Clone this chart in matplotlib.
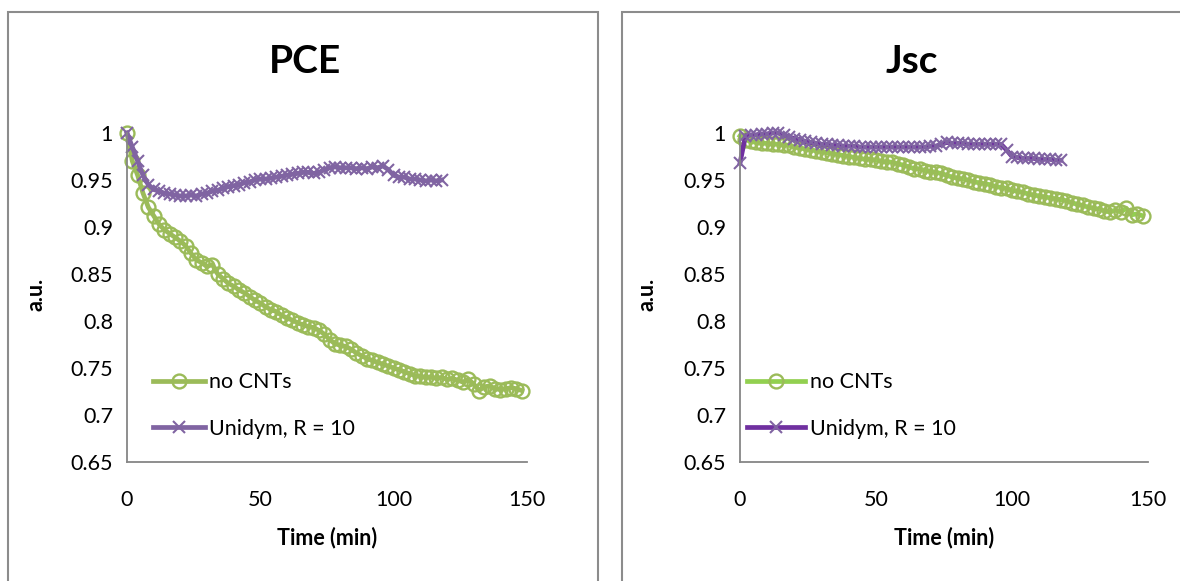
import numpy as np
import matplotlib.pyplot as plt
from matplotlib.patches import Rectangle

plt.rcParams['font.family'] = ['Lato', 'DejaVu Sans']

# time axis (min), one sample every 2 min
t_ref = np.arange(0, 150, 2)     # no CNTs
t_uni = np.arange(0, 120, 2)     # Unidym, R = 10

# PCE (normalised)
pce_ref = [1.000, 0.970, 0.955, 0.936, 0.921, 0.912, 0.903, 0.897, 0.893, 0.889,
           0.885, 0.880, 0.872, 0.865, 0.862, 0.858, 0.860, 0.850, 0.845, 0.840,
           0.837, 0.833, 0.830, 0.826, 0.822, 0.819, 0.815, 0.812, 0.810, 0.806,
           0.803, 0.801, 0.798, 0.796, 0.794, 0.793, 0.790, 0.786, 0.780, 0.776,
           0.774, 0.773, 0.770, 0.766, 0.763, 0.760, 0.758, 0.756, 0.754, 0.752,
           0.750, 0.748, 0.746, 0.744, 0.742, 0.741, 0.740, 0.740, 0.739, 0.740,
           0.738, 0.739, 0.737, 0.735, 0.738, 0.733, 0.726, 0.730, 0.731, 0.728,
           0.727, 0.728, 0.729, 0.728, 0.726]
pce_uni = [1.000, 0.985, 0.970, 0.955, 0.945, 0.940, 0.938, 0.936, 0.935, 0.934,
           0.933, 0.933, 0.934, 0.933, 0.935, 0.936, 0.938, 0.939, 0.941, 0.943,
           0.944, 0.945, 0.947, 0.948, 0.950, 0.951, 0.951, 0.952, 0.953, 0.954,
           0.955, 0.956, 0.957, 0.958, 0.958, 0.957, 0.958, 0.961, 0.963, 0.964,
           0.963, 0.963, 0.963, 0.962, 0.963, 0.962, 0.964, 0.963, 0.965, 0.961,
           0.955, 0.953, 0.953, 0.951, 0.951, 0.950, 0.949, 0.950, 0.949, 0.950]

# Jsc (normalised)
jsc_ref = [0.997, 0.993, 0.991, 0.990, 0.989, 0.989, 0.988, 0.988, 0.987, 0.987,
           0.985, 0.984, 0.983, 0.982, 0.981, 0.980, 0.979, 0.978, 0.977, 0.976,
           0.975, 0.974, 0.973, 0.972, 0.972, 0.971, 0.970, 0.969, 0.969, 0.967,
           0.966, 0.964, 0.962, 0.962, 0.960, 0.959, 0.958, 0.957, 0.955, 0.953,
           0.952, 0.951, 0.950, 0.948, 0.947, 0.946, 0.945, 0.943, 0.942, 0.941,
           0.939, 0.938, 0.937, 0.935, 0.934, 0.933, 0.932, 0.931, 0.930, 0.929,
           0.928, 0.926, 0.924, 0.923, 0.921, 0.920, 0.919, 0.917, 0.916, 0.918,
           0.916, 0.920, 0.913, 0.914, 0.912]
jsc_uni = [0.968, 0.997, 0.998, 0.998, 0.999, 0.999, 1.000, 1.000, 0.998, 0.996,
           0.994, 0.993, 0.991, 0.990, 0.989, 0.988, 0.988, 0.987, 0.987, 0.986,
           0.986, 0.986, 0.985, 0.985, 0.985, 0.985, 0.985, 0.985, 0.985, 0.985,
           0.985, 0.985, 0.985, 0.985, 0.985, 0.986, 0.986, 0.988, 0.990, 0.989,
           0.989, 0.989, 0.988, 0.988, 0.988, 0.988, 0.988, 0.988, 0.988, 0.982,
           0.975, 0.974, 0.973, 0.973, 0.973, 0.972, 0.972, 0.972, 0.971, 0.971]

labels = ['no CNTs', 'Unidym, R = 10']
yticks = [0.65, 0.7, 0.75, 0.8, 0.85, 0.9, 0.95, 1.0]
ytick_labels = ['0.65', '0.7', '0.75', '0.8', '0.85', '0.9', '0.95', '1']

W, H = 1180, 581
fig = plt.figure(figsize=(W / 100, H / 100), dpi=100)

# chart frames (Excel style)
for x0, x1 in [(8, 598), (622, 1200)]:
    fig.patches.append(Rectangle((x0 / W, -0.02), (x1 - x0) / W, 1.0 - 12 / H + 0.02,
                                 transform=fig.transFigure, fill=False,
                                 edgecolor='#8c8c8c', lw=1.5))

panels = [
    # left px, right px, title, data, line colours, marker colours, title x, legend x, handle len
    (127, 527, 'PCE', (pce_ref, pce_uni), ('#9BBB59', '#8064A2'), ('#9BBB59', '#8064A2'), 0.445, 0.065, 2.4),
    (740, 1148, 'Jsc', (jsc_ref, jsc_uni), ('#92D050', '#7030A0'), ('#9BBB59', '#8064A2'), 0.42, 0.018, 2.7),
]

for left, right, title, (y_ref, y_uni), lcol, mcol, tx, lx, hl in panels:
    ax = fig.add_axes([left / W, (H - 462) / H, (right - left) / W, (462 - 133) / H])
    ax.plot(t_ref, y_ref, color=lcol[0], lw=3.4, marker='o', ms=10,
            mfc='none', mec=mcol[0], mew=1.7, label=labels[0], clip_on=False)
    ax.plot(t_uni, y_uni, color=lcol[1], lw=3.4, marker='x', ms=9,
            mec=mcol[1], mew=1.5, label=labels[1], clip_on=False)

    ax.set_xlim(0, 150)
    ax.set_ylim(0.65, 1.0)
    ax.set_xticks([0, 50, 100, 150])
    ax.set_yticks(yticks)
    ax.set_yticklabels(ytick_labels)
    ax.tick_params(length=0, labelsize=15.5, colors='black')
    ax.tick_params(axis='x', pad=20)
    ax.tick_params(axis='y', pad=10)
    for s in ['top', 'right']:
        ax.spines[s].set_visible(False)
    for s in ['left', 'bottom']:
        ax.spines[s].set_color('#868686')
        ax.spines[s].set_linewidth(1.3)

    ax.set_xlabel('Time (min)', fontsize=15.5, fontweight='bold', va='center')
    ax.xaxis.set_label_coords(0.5, -0.228)
    ax.set_ylabel('a.u.', fontsize=15.5, fontweight='bold', va='center')
    ax.yaxis.set_label_coords(-0.228, 0.508)
    ax.text(tx, 1.216, title, transform=ax.transAxes, fontsize=28,
            fontweight='bold', ha='center', va='center')

    ax.legend(loc='lower left', bbox_to_anchor=(lx, 0.07), frameon=False,
              fontsize=15.5, handlelength=hl, handletextpad=0.2,
              labelspacing=1.25, borderpad=0, borderaxespad=0)

fig.savefig('out.png', dpi=100)
